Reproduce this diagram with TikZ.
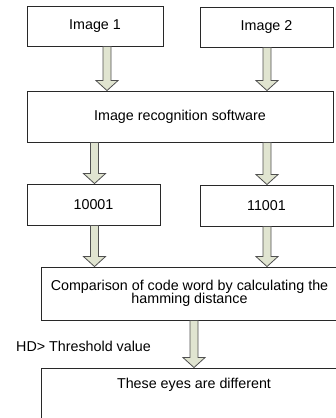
\documentclass[tikz,border=0pt]{standalone}
\usepackage{fontspec}
\setmainfont{Liberation Sans}
\usetikzlibrary{calc}
\definecolor{boxline}{RGB}{40,40,40}
\definecolor{arrowfill}{RGB}{224,228,208}
\definecolor{arrowline}{RGB}{80,80,80}
\tikzset{
  stepbox/.style={draw=boxline, line width=0.9pt, fill=white, inner sep=0pt,
    font=\fontsize{14.3}{16}\selectfont},
  fat/.style={draw=arrowline, line width=0.8pt, fill=arrowfill, line join=miter,
    to path={let \p1=(\tikztostart), \p2=(\tikztotarget) in
      (\x1-4pt,\y1) -- (\x1-4pt,\y2+10pt) -- (\x1-11pt,\y2+10pt) -- (\x1,\y2)
      -- (\x1+11pt,\y2+10pt) -- (\x1+4pt,\y2+10pt) -- (\x1+4pt,\y1) -- cycle}},
  lbl/.style={font=\fontsize{14.3}{16}\selectfont, inner sep=0pt}
}
\begin{document}
\begin{tikzpicture}[x=1pt, y=-1pt]
\useasboundingbox (0,0) rectangle (336,418);
\clip (0,0) rectangle (336,418);
\fill[white] (0,0) rectangle (336,418);

% process boxes
\node[stepbox, minimum width=136pt, minimum height=40pt] (img1) at (95,26) {Image 1};
\node[stepbox, minimum width=133pt, minimum height=40pt] (img2) at (266.5,27) {Image 2};
\node[stepbox, minimum width=306pt, minimum height=51pt] (rec) at (180,116.5) {Image recognition software};
\node[stepbox, minimum width=133pt, minimum height=41pt] (c1) at (93.5,204.5) {10001};
\node[stepbox, minimum width=133pt, minimum height=41pt] (c2) at (266.5,205.5) {11001};
\node[stepbox, minimum width=297pt, minimum height=53pt, align=center,
      font=\fontsize{14.3}{13.5}\selectfont] (cmp) at (189.5,293.5)
      {Comparison of code word by calculating the\\hamming distance};
\node[stepbox, minimum width=297pt, minimum height=72pt] (res) at (189.5,404) {};
\node[lbl] (restxt) at (194,385) {These eyes are different};
\node[lbl, anchor=west] (hd) at (16,346) {HD> Threshold value};

% arrow columns
\coordinate (xa) at (107,0);
\coordinate (xb) at (267,0);
\coordinate (xc) at (94.5,0);
\coordinate (xd) at (194,0);

% block arrows between the boxes
\draw[fat] (img1.south -| xa) to (rec.north -| xa);
\draw[fat] (img2.south -| xb) to (rec.north -| xb);
\draw[fat] (rec.south -| xc) to (c1.north -| xc);
\draw[fat] (rec.south -| xb) to (c2.north -| xb);
\draw[fat] (c1.south -| xc) to (cmp.north -| xc);
\draw[fat] (c2.south -| xb) to (cmp.north -| xb);
\draw[fat] (cmp.south -| xd) to (res.north -| xd);
\end{tikzpicture}
\end{document}
